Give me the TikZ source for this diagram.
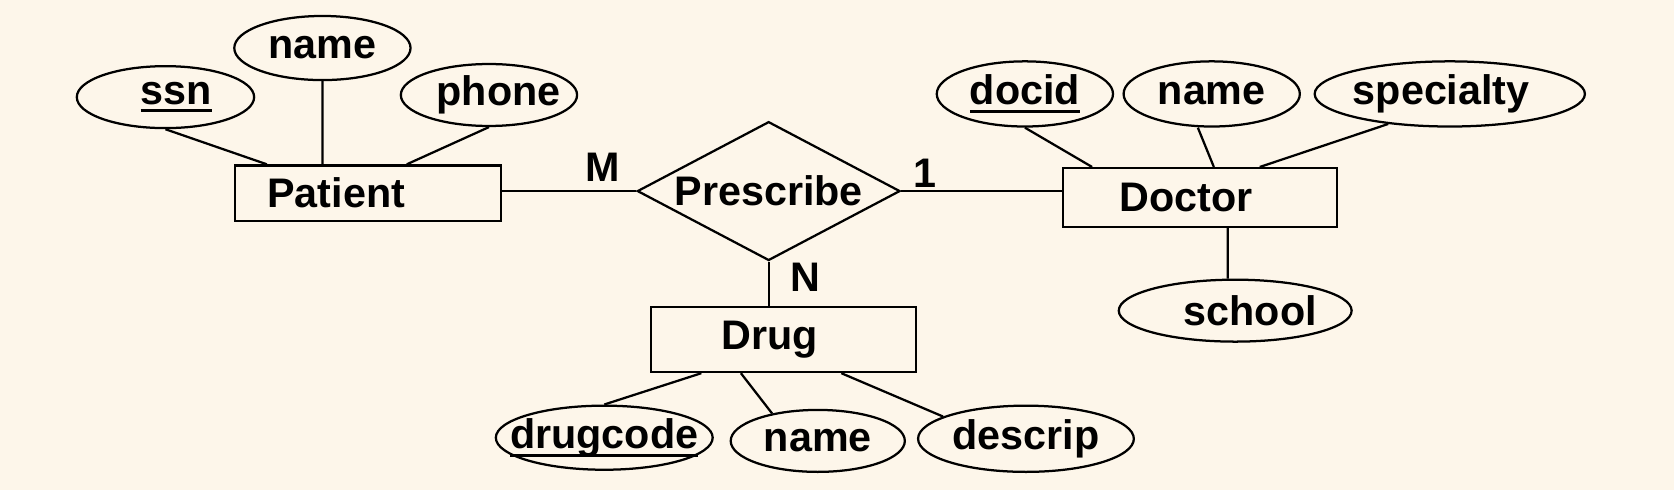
\documentclass[tikz,border=0pt]{standalone}
\usepackage{fontspec}
\setmainfont{Liberation Sans}
\usetikzlibrary{shapes.geometric}

\definecolor{bgcream}{RGB}{253,246,234}

% text that does not widen its shape
\newcommand{\ctext}[1]{\makebox[0pt]{#1}}
% key attribute: underline close to the baseline
\newcommand{\keyattr}[1]{\setbox0\hbox{#1}\rlap{\rule[-2.2pt]{\wd0}{0.8pt}}\box0}

\tikzset{
    entity/.style={draw, rectangle, line width=0.6pt, inner sep=0pt},
    attr/.style={draw, ellipse, line width=0.6pt, inner sep=0pt},
    rel/.style={draw, diamond, line width=0.6pt, inner sep=0pt, aspect=1.9},
    link/.style={line width=0.6pt},
}

\begin{document}
\begin{tikzpicture}[x=0.01cm, y=-0.01cm, font=\fontsize{11}{13}\selectfont\bfseries]

    % ==========================================
    % 1. CANVAS
    % ==========================================
    \fill[bgcream] (0,0) rectangle (1568,459);
    \useasboundingbox (0,0) rectangle (1568,459);

    % ==========================================
    % 2. ENTITIES AND RELATIONSHIP
    % ==========================================
    \node[entity, minimum width=2.49cm, minimum height=0.52cm] (patient) at (345,181) {\ctext{Patient\hspace{0.6cm}}};
    \node[rel, minimum width=2.46cm, minimum height=1.30cm] (prescribe) at (720,179) {Prescribe};
    \node[entity, minimum width=2.56cm, minimum height=0.55cm] (doctor) at (1124,185) {\ctext{Doctor\hspace{0.26cm}}};
    \node[entity, minimum width=2.48cm, minimum height=0.61cm] (drug) at (734,318) {\ctext{Drug\hspace{0.26cm}}};

    % ==========================================
    % 3. ATTRIBUTES
    % ==========================================
    % Patient
    \node[attr, minimum width=1.66cm, minimum height=0.58cm] (ssn) at (155,91) {\ctext{\hspace{0.2cm}\keyattr{ssn}}};
    \node[attr, minimum width=1.65cm, minimum height=0.60cm] (pname) at (302,45) {\ctext{name}};
    \node[attr, minimum width=1.65cm, minimum height=0.58cm] (phone) at (458,89) {\ctext{\hspace{0.18cm}phone}};

    % Doctor
    \node[attr, minimum width=1.65cm, minimum height=0.61cm] (docid) at (960,88) {\ctext{\keyattr{docid}}};
    \node[attr, minimum width=1.65cm, minimum height=0.61cm] (dname) at (1135,88) {\ctext{name}};
    \node[attr, minimum width=2.53cm, minimum height=0.61cm] (specialty) at (1358,88) {\ctext{specialty\hspace{0.16cm}}};
    \node[attr, minimum width=2.18cm, minimum height=0.58cm] (school) at (1157,291) {\ctext{\hspace{0.28cm}school}};

    % Drug
    \node[attr, minimum width=2.03cm, minimum height=0.60cm] (drugcode) at (566,410) {\ctext{\keyattr{drugcode}}};
    \node[attr, minimum width=1.63cm, minimum height=0.58cm] (gname) at (766,413) {\ctext{name}};
    \node[attr, minimum width=2.02cm, minimum height=0.62cm] (descrip) at (961,411) {\ctext{descrip}};

    % ==========================================
    % 4. CARDINALITIES
    % ==========================================
    \node (cardM) at (565,157) {M};
    \node (card1) at (866,162) {1};
    \node (cardN) at (754,260) {N};

    % ==========================================
    % 5. CONNECTORS
    % ==========================================
    \draw[link] (prescribe.west -| patient.east) -- (prescribe.west);
    \draw[link] (prescribe.east) -- (prescribe.east -| doctor.west);
    \draw[link] (prescribe.south) -- (prescribe.south |- drug.north);

    \draw[link] (ssn.south) -- ([xshift=-0.95cm]patient.north);
    \draw[link] (pname.south) -- ([xshift=-0.43cm]patient.north);
    \draw[link] (phone.south) -- ([xshift=0.36cm]patient.north);

    \draw[link] (docid.south) -- ([xshift=-1.01cm]doctor.north);
    \draw[link] ([xshift=-0.13cm]dname.south) -- ([xshift=0.13cm]doctor.north);
    \draw[link] (specialty.206) -- ([xshift=0.56cm]doctor.north);
    \draw[link] ([xshift=0.26cm]doctor.south) -- ([xshift=-0.07cm]school.north);

    \draw[link] ([xshift=-0.77cm]drug.south) -- (drugcode.north);
    \draw[link] ([xshift=-0.40cm]drug.south) -- (gname.149);
    \draw[link] ([xshift=0.54cm]drug.south) -- (descrip.165);

\end{tikzpicture}
\end{document}
